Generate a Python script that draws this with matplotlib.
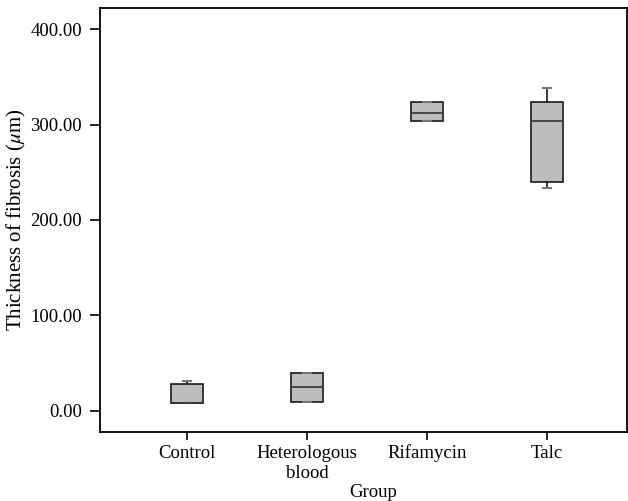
import matplotlib
matplotlib.use("Agg")
import matplotlib.pyplot as plt

categories = ["Control", "Heterologous\nblood", "Rifamycin", "Talc"]
whislo = [8.0, 9.5, 304.0, 233.8]
q1 = [8.0, 9.5, 304.0, 239.5]
med = [8.0, 25.3, 312.3, 304.0]
q3 = [28.3, 40.0, 324.0, 324.0]
whishi = [31.7, 40.0, 324.0, 338.5]
yticks = [0, 100, 200, 300, 400]

plt.rcParams['font.family'] = ['Liberation Serif', 'DejaVu Serif']
plt.rcParams['mathtext.fontset'] = 'stix'

fig = plt.figure(figsize=(6.28, 5.01), dpi=100)
ax = fig.add_axes([100/628, (501-432)/501, 527/628, 424/501])

stats = []
for i, c in enumerate(categories):
    stats.append(dict(label=c, whislo=whislo[i], q1=q1[i], med=med[i],
                      q3=q3[i], whishi=whishi[i], fliers=[]))

positions = [1, 2, 3, 4]
ax.bxp(stats, positions=positions, widths=0.26, patch_artist=True,
       showfliers=False,
       boxprops=dict(facecolor="#bdbdbd", edgecolor="#1a1a1a", linewidth=1.2),
       medianprops=dict(color="#333333", linewidth=1.2),
       whiskerprops=dict(color="#1a1a1a", linewidth=1.2),
       capprops=dict(color="#777777", linewidth=1.5),
       capwidths=0.06)

ax.set_xlim(0.275, 4.667)
ax.set_ylim(-22, 422)
ax.set_xticks(positions)
ax.set_xticklabels(categories, fontsize=13.5, linespacing=1.25)
ax.set_yticks(yticks)
ax.set_yticklabels([f"{v:.2f}" for v in yticks], fontsize=13.5)
for s in ax.spines.values():
    s.set_linewidth(1.3)
ax.tick_params(axis="y", direction="out", length=7, width=1.2, pad=6)
ax.tick_params(axis="x", direction="out", length=6, width=1.2, pad=3)
ax.set_ylabel("Thickness of fibrosis ($\\mathit{\\mu}$m)", fontsize=15)
ax.yaxis.set_label_coords(-0.137, 0.5)
ax.set_xlabel("Group", fontsize=13.5)
ax.xaxis.set_label_coords(0.518, -0.122)

fig.savefig("out.png", dpi=100)
